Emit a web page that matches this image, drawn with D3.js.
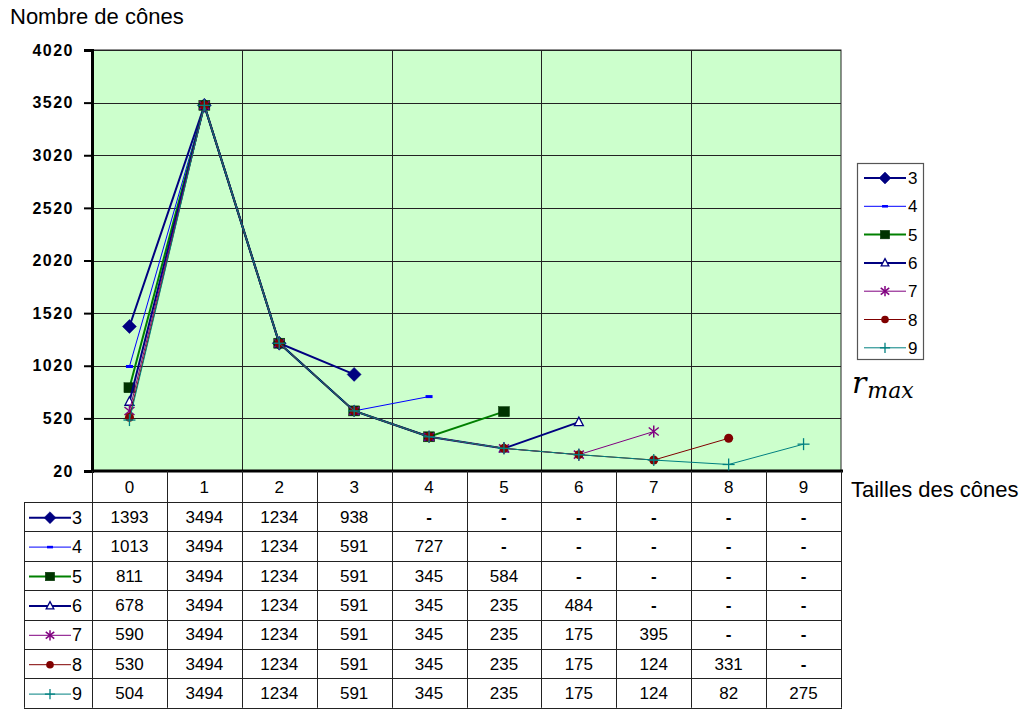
<!DOCTYPE html>
<html>
<head>
<meta charset="utf-8">
<script src="https://cdn.jsdelivr.net/npm/d3@7"></script>
<style>
  html, body { margin: 0; padding: 0; background: #fff; }
  svg { display: block; font-family: Arial, "Liberation Sans", sans-serif; }
</style>
</head>
<body>
<svg id="chart" width="1024" height="709"></svg>
<script>
// Cone sizes along the x axis
const categories = [0, 1, 2, 3, 4, 5, 6, 7, 8, 9];
// r_max value of each series
const seriesNames = ["3", "4", "5", "6", "7", "8", "9"];
// Number of cones per size, one array per r_max (null = no value)
const values3 = [1393, 3494, 1234, 938, null, null, null, null, null, null];
const values4 = [1013, 3494, 1234, 591, 727, null, null, null, null, null];
const values5 = [811, 3494, 1234, 591, 345, 584, null, null, null, null];
const values6 = [678, 3494, 1234, 591, 345, 235, 484, null, null, null];
const values7 = [590, 3494, 1234, 591, 345, 235, 175, 395, null, null];
const values8 = [530, 3494, 1234, 591, 345, 235, 175, 124, 331, null];
const values9 = [504, 3494, 1234, 591, 345, 235, 175, 124, 82, 275];
const yTicks = [20, 520, 1020, 1520, 2020, 2520, 3020, 3520, 4020];

const allValues = [values3, values4, values5, values6, values7, values8, values9];

// Styling per series
const styles = {
  "3": { color: "#000080", width: 2,   marker: "diamond" },
  "4": { color: "#0000ff", width: 1,   marker: "dash" },
  "5": { color: "#008000", width: 2,   marker: "square" },
  "6": { color: "#000080", width: 2,   marker: "triangle" },
  "7": { color: "#800080", width: 1,   marker: "star" },
  "8": { color: "#800000", width: 1,   marker: "circle" },
  "9": { color: "#008080", width: 1,   marker: "plus" }
};

const svg = d3.select("#chart");

const plot = { left: 92, right: 841, top: 50, bottom: 471 };

const x = d3.scaleBand().domain(categories).range([plot.left, plot.right]);
const y = d3.scaleLinear().domain([20, 4020]).range([plot.bottom, plot.top]);

// Plot background
svg.append("rect")
  .attr("x", plot.left).attr("y", plot.top)
  .attr("width", plot.right - plot.left).attr("height", plot.bottom - plot.top)
  .attr("fill", "#ccffcc").attr("stroke", "#222").attr("stroke-width", 1);

// Horizontal gridlines
svg.append("g").selectAll("line").data(yTicks.slice(1)).join("line")
  .attr("x1", plot.left).attr("x2", plot.right)
  .attr("y1", d => Math.round(y(d)) + 0.5).attr("y2", d => Math.round(y(d)) + 0.5)
  .attr("stroke", "#222").attr("stroke-width", 1);

// Vertical gridlines every second category
svg.append("g").selectAll("line").data(categories.filter(c => c > 0 && c % 2 === 0)).join("line")
  .attr("x1", d => Math.round(x(d)) + 0.5).attr("x2", d => Math.round(x(d)) + 0.5)
  .attr("y1", plot.top).attr("y2", plot.bottom)
  .attr("stroke", "#222").attr("stroke-width", 1);

// Y axis
const yAxis = d3.axisLeft(y).tickValues(yTicks).tickFormat(d3.format("d")).tickSize(8).tickPadding(10);
const yg = svg.append("g").attr("transform", `translate(${plot.left},0)`).call(yAxis);
yg.select(".domain").attr("stroke", "#000").attr("stroke-width", 3);
yg.selectAll(".tick line").attr("stroke", "#000").attr("stroke-width", 2);
yg.selectAll(".tick text")
  .attr("font-family", "Arial, 'Liberation Sans', sans-serif")
  .attr("font-size", 16).attr("font-weight", "bold")
  .attr("letter-spacing", "1.5px").attr("fill", "#000");

// Bottom axis line
svg.append("line")
  .attr("x1", plot.left - 1).attr("x2", plot.right + 2)
  .attr("y1", plot.bottom).attr("y2", plot.bottom)
  .attr("stroke", "#000").attr("stroke-width", 3);

// Marker drawing
function drawMarker(g, kind, color, cx, cy, scale) {
  const s = scale || 1;
  switch (kind) {
    case "diamond":
      g.append("path")
        .attr("d", `M${cx},${cy - 7 * s}L${cx + 7 * s},${cy}L${cx},${cy + 7 * s}L${cx - 7 * s},${cy}Z`)
        .attr("fill", color).attr("stroke", color).attr("stroke-width", 0.5);
      break;
    case "dash":
      g.append("rect")
        .attr("x", cx - 3.5 * s).attr("y", cy - 1.5 * s)
        .attr("width", 7 * s).attr("height", 3 * s)
        .attr("fill", color);
      break;
    case "square":
      g.append("rect")
        .attr("x", cx - 5.5 * s).attr("y", cy - 5 * s)
        .attr("width", 11 * s).attr("height", 10 * s)
        .attr("fill", "#003300").attr("stroke", "#003300").attr("stroke-width", 0.5);
      break;
    case "triangle":
      g.append("path")
        .attr("d", `M${cx},${cy - 5 * s}L${cx + 4.5 * s},${cy + 3.5 * s}L${cx - 4.5 * s},${cy + 3.5 * s}Z`)
        .attr("fill", "#fff").attr("stroke", color).attr("stroke-width", 1.3);
      break;
    case "star":
      [[0, -6, 0, 6], [-5, -4, 5, 4], [-5, 4, 5, -4]].forEach(([a, b, c, d]) => {
        g.append("line")
          .attr("x1", cx + a * s).attr("y1", cy + b * s)
          .attr("x2", cx + c * s).attr("y2", cy + d * s)
          .attr("stroke", color).attr("stroke-width", 1.5);
      });
      break;
    case "circle":
      g.append("circle").attr("cx", cx).attr("cy", cy).attr("r", 4.5 * s)
        .attr("fill", color);
      break;
    case "plus":
      g.append("line").attr("x1", cx - 6 * s).attr("x2", cx + 6 * s)
        .attr("y1", cy).attr("y2", cy).attr("stroke", color).attr("stroke-width", 1.3);
      g.append("line").attr("x1", cx).attr("x2", cx)
        .attr("y1", cy - 6 * s).attr("y2", cy + 6 * s).attr("stroke", color).attr("stroke-width", 1.3);
      break;
  }
}

// Series lines and markers
const line = d3.line()
  .defined(d => d.v !== null)
  .x(d => x(d.c) + x.bandwidth() / 2)
  .y(d => y(d.v));

const seriesLayer = svg.append("g");
seriesNames.forEach((name, i) => {
  const st = styles[name];
  const pts = categories.map((c, j) => ({ c, v: allValues[i][j] }));
  const g = seriesLayer.append("g");
  g.append("path").datum(pts)
    .attr("d", line)
    .attr("fill", "none")
    .attr("stroke", st.color)
    .attr("stroke-width", st.width);
  pts.filter(p => p.v !== null).forEach(p => {
    drawMarker(g, st.marker, st.color, x(p.c) + x.bandwidth() / 2, y(p.v));
  });
});

// Data table below the plot
const table = { left: 24, headerTop: plot.bottom, headerBottom: 502, rowH: 29.4 };
const tg = svg.append("g");
const rowTop = i => table.headerBottom + i * table.rowH;
const tableBottom = rowTop(seriesNames.length);

// Column lines
categories.forEach(c => {
  tg.append("line")
    .attr("x1", Math.round(x(c)) + 0.5).attr("x2", Math.round(x(c)) + 0.5)
    .attr("y1", plot.bottom).attr("y2", tableBottom)
    .attr("stroke", "#222").attr("stroke-width", 1);
});
tg.append("line")
  .attr("x1", plot.right + 0.5).attr("x2", plot.right + 0.5)
  .attr("y1", plot.bottom).attr("y2", tableBottom)
  .attr("stroke", "#222").attr("stroke-width", 1);
tg.append("line")
  .attr("x1", table.left + 0.5).attr("x2", table.left + 0.5)
  .attr("y1", table.headerBottom).attr("y2", tableBottom)
  .attr("stroke", "#222").attr("stroke-width", 1);

// Row lines
d3.range(seriesNames.length + 1).forEach(i => {
  const yy = Math.round(rowTop(i)) + 0.5;
  tg.append("line")
    .attr("x1", table.left).attr("x2", plot.right + 1)
    .attr("y1", yy).attr("y2", yy)
    .attr("stroke", "#222").attr("stroke-width", 1);
});

// Header labels
tg.selectAll("text.head").data(categories).join("text")
  .attr("class", "head")
  .attr("x", d => x(d) + x.bandwidth() / 2)
  .attr("y", (plot.bottom + table.headerBottom) / 2 + 6)
  .attr("text-anchor", "middle")
  .attr("font-size", 17).attr("fill", "#000")
  .text(d => d);

// Cell values and row legends
seriesNames.forEach((name, i) => {
  const cy = rowTop(i) + table.rowH / 2;
  categories.forEach((c, j) => {
    const v = allValues[i][j];
    tg.append("text")
      .attr("x", x(c) + x.bandwidth() / 2)
      .attr("y", cy + 6)
      .attr("text-anchor", "middle")
      .attr("font-size", 17).attr("fill", "#000")
      .attr("font-weight", v === null ? "bold" : "normal")
      .text(v === null ? "-" : v);
  });
  const st = styles[name];
  const lg = tg.append("g");
  lg.append("line").attr("x1", 29).attr("x2", 71).attr("y1", cy + 1).attr("y2", cy + 1)
    .attr("stroke", st.color).attr("stroke-width", st.width);
  drawMarker(lg, st.marker, st.color, 50, cy + 1, 0.85);
  lg.append("text").attr("x", 72).attr("y", cy + 7)
    .attr("font-size", 18).attr("fill", "#000").text(name);
});

// Legend box
const lgBox = { x: 857, y: 163, w: 66, h: 196 };
svg.append("rect")
  .attr("x", lgBox.x + 0.5).attr("y", lgBox.y + 0.5)
  .attr("width", lgBox.w).attr("height", lgBox.h)
  .attr("fill", "#fff").attr("stroke", "#555").attr("stroke-width", 1.2);
seriesNames.forEach((name, i) => {
  const st = styles[name];
  const cy = 178 + i * 28.3;
  const g = svg.append("g");
  g.append("line").attr("x1", 864).attr("x2", 906).attr("y1", cy).attr("y2", cy)
    .attr("stroke", st.color).attr("stroke-width", st.width);
  drawMarker(g, st.marker, st.color, 885, cy, 0.85);
  g.append("text").attr("x", 908).attr("y", cy + 6)
    .attr("font-size", 17).attr("fill", "#000").text(name);
});

// r_max label under the legend
const rmax = svg.append("text").attr("x", 852).attr("y", 393)
  .attr("font-family", "'DejaVu Serif', 'Liberation Serif', serif")
  .attr("font-style", "italic").attr("fill", "#000");
rmax.append("tspan").attr("font-size", 30).text("r");
rmax.append("tspan").attr("font-size", 22).attr("dy", 5).attr("dx", 1).text("max");

// Axis titles
svg.append("text").attr("x", 10).attr("y", 24)
  .attr("font-size", 22).attr("fill", "#000").text("Nombre de cônes");
svg.append("text").attr("x", 851).attr("y", 497)
  .attr("font-size", 22).attr("fill", "#000").text("Tailles des cônes");
</script>
</body>
</html>
